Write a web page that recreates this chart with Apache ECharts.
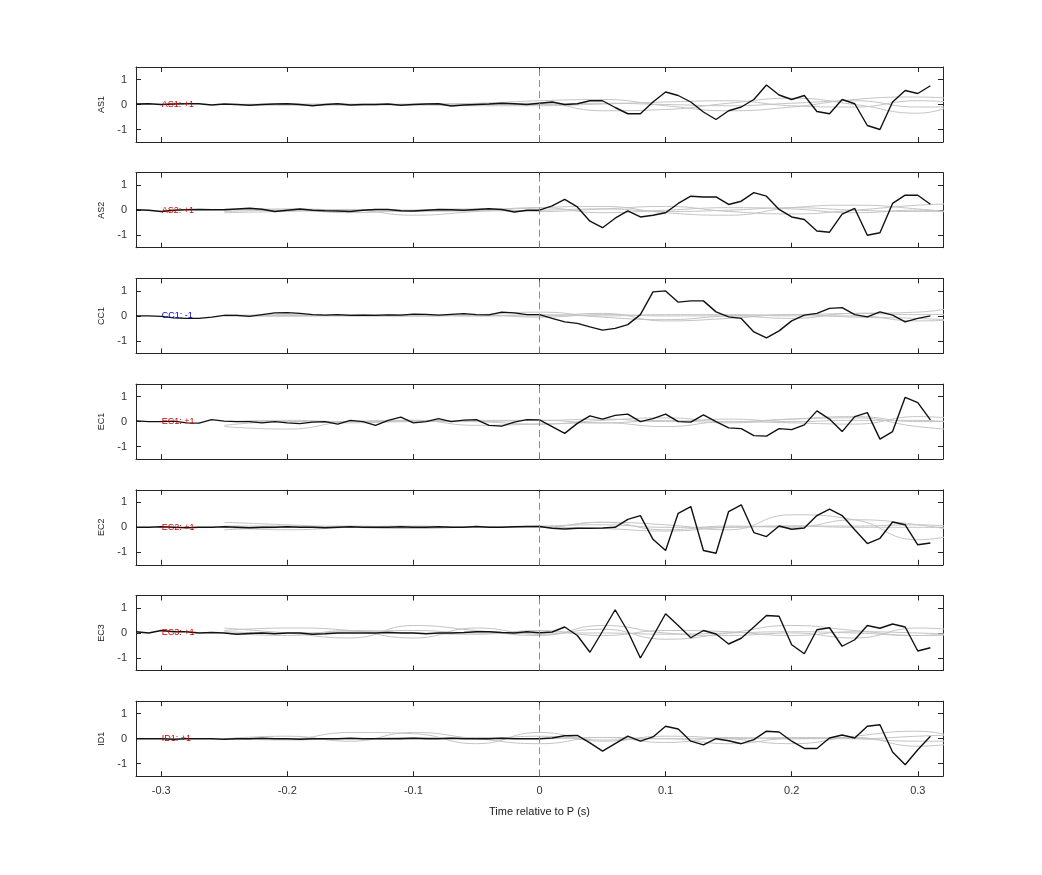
<!DOCTYPE html>
<html>
<head>
<meta charset="utf-8">
<title>Station traces</title>
<style>
  *{margin:0;padding:0;}
  #chart{width:1042px;height:875px;background:#fff;}
</style>
</head>
<body>
<div id="chart"></div>
<script src="https://cdn.jsdelivr.net/npm/echarts@6/dist/echarts.min.js"></script>
<script>
// stations and their polarity labels
var stations = ['AS1', 'AS2', 'CC1', 'EC1', 'EC2', 'EC3', 'ID1'];
var polarity = ['+1', '+1', '-1', '+1', '+1', '+1', '+1'];

// black trace sampled every 0.01 s from -0.32 to 0.31
var times = [];
for (var i = 0; i < 64; i++) times.push(+(-0.32 + i * 0.01).toFixed(2));

var traceAS1 = [0.02,0.03,0.0,0.02,0.03,0.03,-0.02,0.02,0.0,-0.03,0.0,0.02,0.03,0.0,-0.05,0.0,0.03,-0.02,0.0,0.0,0.02,-0.03,0.0,0.02,0.03,-0.06,-0.02,0.0,0.02,0.05,0.03,0.0,
  0.05,0.1,0.0,0.03,0.15,0.15,-0.12,-0.37,-0.37,0.1,0.5,0.36,0.1,-0.3,-0.6,-0.25,-0.1,0.2,0.78,0.38,0.2,0.36,-0.28,-0.37,0.2,0.03,-0.84,-1.0,0.1,0.56,0.44,0.75];
var traceAS2 = [0.02,0.0,-0.05,0.0,0.02,0.03,0.02,0.02,0.05,0.08,0.04,-0.05,0.0,0.05,0.0,-0.02,-0.03,-0.05,0.0,0.03,0.03,-0.02,-0.03,0.0,0.03,0.02,0.0,0.03,0.06,0.03,-0.07,0.0,
  0.0,0.17,0.43,0.13,-0.44,-0.7,-0.32,-0.03,-0.27,-0.2,-0.1,0.27,0.56,0.53,0.53,0.23,0.36,0.7,0.56,0.03,-0.27,-0.37,-0.83,-0.88,-0.16,0.07,-1.0,-0.9,0.27,0.6,0.6,0.24];
var traceCC1 = [0.0,0.0,-0.02,-0.08,-0.1,-0.1,-0.05,0.02,0.02,-0.02,0.05,0.12,0.13,0.1,0.05,0.03,0.05,0.02,0.03,0.02,0.04,0.03,0.07,0.06,0.03,0.06,0.09,0.05,0.04,0.15,0.12,0.05,
  0.05,-0.1,-0.24,-0.3,-0.44,-0.57,-0.5,-0.35,0.05,0.96,1.0,0.55,0.6,0.6,0.16,-0.04,-0.1,-0.64,-0.88,-0.6,-0.2,0.03,0.1,0.3,0.33,0.05,-0.04,0.16,0.03,-0.24,-0.1,0.0];
var traceEC1 = [0.03,0.0,0.0,0.02,-0.05,-0.06,0.08,0.02,0.0,0.0,-0.05,0.0,-0.05,-0.08,-0.02,0.0,-0.1,0.05,0.0,-0.15,0.05,0.18,-0.05,0.0,0.12,0.0,0.06,0.08,-0.15,-0.18,-0.02,0.08,
  0.07,-0.2,-0.47,-0.07,0.23,0.1,0.25,0.3,0.0,0.12,0.3,0.0,-0.02,0.27,0.0,-0.25,-0.28,-0.56,-0.58,-0.28,-0.32,-0.13,0.43,0.1,-0.4,0.2,0.36,-0.7,-0.4,0.97,0.76,0.07];
var traceEC2 = [0.0,0.0,0.02,0.0,-0.02,0.0,0.0,0.02,0.0,-0.02,0.0,0.0,0.02,0.0,0.0,-0.02,0.0,0.02,0.0,0.0,0.0,0.02,0.0,0.0,0.02,0.0,0.0,0.03,0.0,0.0,0.02,0.03,
  0.03,-0.04,-0.07,-0.04,-0.04,-0.03,0.0,0.32,0.47,-0.48,-0.93,0.56,0.83,-0.93,-1.04,0.63,0.9,-0.21,-0.37,0.05,-0.08,-0.03,0.47,0.73,0.47,-0.1,-0.65,-0.44,0.21,0.1,-0.7,-0.63];
var traceEC3 = [0.05,0.0,0.1,0.05,0.05,0.0,0.02,0.0,-0.05,-0.02,0.0,-0.03,0.0,0.0,-0.05,-0.03,0.0,0.0,0.0,0.0,0.02,0.0,0.0,-0.03,0.0,0.0,0.02,0.05,0.05,0.02,0.0,0.05,
  0.01,0.04,0.24,-0.1,-0.77,0.07,0.93,0.07,-1.0,-0.13,0.77,0.3,-0.19,0.1,-0.04,-0.44,-0.21,0.24,0.7,0.67,-0.47,-0.83,0.13,0.21,-0.53,-0.27,0.3,0.19,0.36,0.24,-0.72,-0.59];
var traceID1 = [0.0,0.0,0.0,-0.02,0.0,0.0,0.0,-0.02,0.0,0.0,0.02,0.0,0.0,-0.02,0.0,0.0,0.0,0.02,0.0,0.0,0.0,0.0,0.02,0.0,0.0,0.02,0.0,0.0,0.0,0.02,0.0,0.0,
  0.0,0.03,0.12,0.13,-0.17,-0.5,-0.2,0.1,-0.1,0.07,0.5,0.39,-0.1,-0.25,0.0,-0.08,-0.2,-0.04,0.3,0.27,-0.1,-0.39,-0.39,0.03,0.15,0.03,0.5,0.56,-0.53,-1.04,-0.44,0.1];
var traces = [traceAS1, traceAS2, traceCC1, traceEC1, traceEC2, traceEC3, traceID1];

// gray comparison traces sampled every 0.05 s from -0.25 to 0.35
var grayTimes = [];
for (var j = 0; j < 13; j++) grayTimes.push(+(-0.25 + j * 0.05).toFixed(2));

var grayAS1 = [
  [0.0,0.0,-0.03,0.02,0.05,0.15,0.2,-0.05,-0.25,-0.1,0.2,0.3,0.1],
  [0.0,-0.03,0.0,-0.02,0.0,0.05,-0.25,-0.2,0.05,0.25,0.0,-0.35,0.6],
  [0.0,0.0,0.02,0.0,-0.05,-0.05,0.02,0.1,0.15,-0.05,-0.1,0.15,0.0],
  [0.0,0.02,0.0,0.0,0.02,0.0,0.05,0.0,-0.05,0.05,0.15,-0.1,-0.1]
];
var grayAS2 = [
  [-0.1,-0.05,0.0,-0.2,-0.05,0.1,0.15,-0.1,-0.2,0.1,0.2,0.05,-0.2],
  [-0.05,0.0,-0.1,0.0,0.05,-0.05,0.05,0.15,-0.05,-0.15,0.0,0.2,0.3],
  [0.0,0.05,0.0,-0.05,0.0,0.1,-0.1,0.0,0.1,0.05,-0.1,0.0,-0.3],
  [0.05,0.0,0.03,0.0,-0.03,0.0,0.05,-0.05,0.0,0.1,0.0,-0.05,0.0]
];
var grayCC1 = [
  [0.0,0.05,0.0,0.0,0.05,0.15,-0.05,-0.15,0.0,0.05,0.1,0.15,0.6],
  [0.0,0.0,0.05,0.05,0.0,0.0,0.1,-0.2,-0.1,0.05,-0.05,-0.1,-0.25],
  [0.05,0.0,0.0,0.0,0.05,-0.05,0.05,0.0,0.0,-0.1,0.1,0.05,0.1],
  [0.0,0.0,0.02,0.0,0.0,0.05,0.0,0.05,0.05,0.0,0.0,-0.2,-0.1]
];
var grayEC1 = [
  [-0.2,-0.3,0.0,0.05,0.0,-0.1,0.05,0.15,0.0,0.1,0.15,-0.2,-0.4],
  [-0.15,0.0,0.0,0.05,-0.15,-0.1,-0.05,-0.2,0.0,-0.05,-0.1,0.2,0.0],
  [0.0,0.05,0.0,0.0,0.05,0.05,0.1,0.0,0.1,0.0,0.05,0.05,-0.2],
  [0.0,0.0,-0.05,0.0,0.0,0.05,-0.05,0.05,-0.05,0.1,0.2,0.0,0.05]
];
var grayEC2 = [
  [0.2,0.1,0.0,-0.05,0.0,0.0,0.2,0.1,-0.1,0.5,0.3,-0.5,0.0],
  [0.0,-0.1,0.0,0.05,0.0,0.0,0.2,-0.1,0.05,0.0,0.3,0.1,-0.3],
  [-0.1,0.0,0.05,0.0,0.0,0.0,-0.05,-0.15,0.0,0.05,0.0,0.0,0.0],
  [0.05,0.05,0.0,0.0,0.0,0.05,0.1,0.0,0.0,0.05,0.05,0.1,-0.1]
];
var grayEC3 = [
  [0.1,0.2,0.1,-0.2,0.2,-0.05,0.15,-0.25,0.0,0.3,0.1,-0.1,0.0],
  [0.2,0.0,-0.2,0.3,0.1,-0.1,0.3,0.0,-0.1,0.0,-0.2,0.2,0.0],
  [0.0,-0.1,0.1,0.0,-0.05,0.1,-0.1,0.1,0.05,-0.1,0.05,0.0,-0.1],
  [0.05,0.0,0.05,0.1,0.0,0.0,0.0,-0.05,0.0,0.05,0.0,-0.1,0.1]
];
var grayID1 = [
  [0.0,0.0,0.25,0.2,-0.2,0.25,-0.1,0.1,0.0,-0.2,0.1,0.3,-0.3],
  [0.0,0.1,-0.1,0.25,0.0,-0.2,0.05,-0.15,0.05,0.0,0.05,-0.3,0.0],
  [0.0,0.0,0.0,0.05,0.0,0.1,-0.05,0.0,-0.2,0.0,0.0,0.1,0.2],
  [0.0,-0.05,0.0,0.0,0.05,0.0,0.05,0.0,0.0,0.05,0.0,-0.1,-0.1]
];
var grays = [grayAS1, grayAS2, grayCC1, grayEC1, grayEC2, grayEC3, grayID1];

var tickValues = [-0.3, -0.2, -0.1, 0, 0.1, 0.2, 0.3];

var panelTop = 67, panelStep = 105.7, panelHeight = 75;
var axisColor = '#262626';

var grid = [], xAxis = [], yAxis = [], series = [];
stations.forEach(function (name, k) {
  var last = k === stations.length - 1;
  grid.push({left: 136, right: 99, top: panelTop + k * panelStep, height: panelHeight});
  // bottom and top x axes
  xAxis.push({
    type: 'value', gridIndex: k, min: -0.32, max: 0.32, interval: 0.1,
    axisLine: {onZero: false, lineStyle: {color: axisColor}},
    axisTick: {inside: true, length: 5, lineStyle: {color: axisColor},
      customValues: tickValues},
    axisLabel: {show: last, color: '#333', fontSize: 11, margin: 9,
      customValues: tickValues, formatter: function (v) { return v === 0 ? '0' : String(+v.toFixed(1)); }},
    splitLine: {show: false},
    name: last ? 'Time relative to P (s)' : '', nameLocation: 'middle', nameGap: 30,
    nameTextStyle: {color: '#222', fontSize: 11}
  });
  xAxis.push({
    type: 'value', gridIndex: k, position: 'top', min: -0.32, max: 0.32,
    axisLine: {onZero: false, lineStyle: {color: axisColor}},
    axisTick: {inside: true, length: 5, lineStyle: {color: axisColor}, customValues: tickValues},
    axisLabel: {show: false}, splitLine: {show: false}
  });
  yAxis.push({
    type: 'value', gridIndex: k, min: -1.5, max: 1.5,
    axisLine: {show: true, onZero: false, lineStyle: {color: axisColor}},
    axisTick: {show: true, inside: true, length: 5, lineStyle: {color: axisColor}, customValues: [-1, 0, 1]},
    axisLabel: {color: '#333', fontSize: 11, margin: 9, customValues: [-1, 0, 1]},
    splitLine: {show: false},
    name: name, nameLocation: 'middle', nameGap: 30, nameRotate: 90,
    nameTextStyle: {color: '#222', fontSize: 9}
  });
  yAxis.push({
    type: 'value', gridIndex: k, position: 'right', min: -1.5, max: 1.5,
    axisLine: {show: true, onZero: false, lineStyle: {color: axisColor}},
    axisTick: {show: true, inside: true, length: 5, lineStyle: {color: axisColor}, customValues: [-1, 0, 1]},
    axisLabel: {show: false}, splitLine: {show: false}
  });

  grays[k].forEach(function (g) {
    series.push({
      type: 'line', xAxisIndex: 2 * k, yAxisIndex: 2 * k, smooth: true, symbol: 'none',
      lineStyle: {color: '#c4c4c4', width: 1}, silent: true,
      data: g.map(function (v, i) { return [grayTimes[i], v]; })
    });
  });

  series.push({
    type: 'line', xAxisIndex: 2 * k, yAxisIndex: 2 * k, symbol: 'none',
    lineStyle: {color: '#111', width: 1.4},
    data: traces[k].map(function (v, i) { return [times[i], v]; }),
    markLine: {
      silent: true, symbol: 'none', label: {show: false},
      lineStyle: {color: '#e05a5a', type: [7, 4], width: 1, opacity: 0.9},
      data: [{xAxis: 0}]
    }
  });

  var isNeg = polarity[k].charAt(0) === '-';
  series.push({
    type: 'scatter', xAxisIndex: 2 * k, yAxisIndex: 2 * k, symbolSize: 1, z: 10, silent: true,
    itemStyle: {opacity: 0},
    data: [[-0.3, 0]],
    label: {show: true, position: 'right', distance: 0, fontSize: 9,
      color: isNeg ? '#0000cc' : '#cc0000', opacity: 1,
      formatter: name + ': ' + polarity[k]}
  });
});

var chart = echarts.init(document.getElementById('chart'));
chart.setOption({
  animation: false,
  backgroundColor: '#fff',
  textStyle: {fontFamily: 'Liberation Sans, Arial, sans-serif'},
  grid: grid, xAxis: xAxis, yAxis: yAxis, series: series
});
</script>
</body>
</html>
